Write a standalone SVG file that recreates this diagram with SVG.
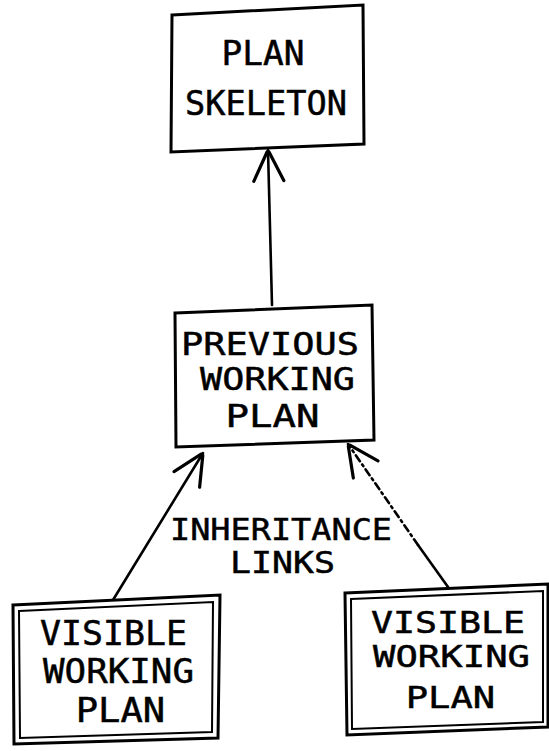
<svg xmlns="http://www.w3.org/2000/svg" width="549" height="751" viewBox="0 0 549 751">
  <style>
    .box { fill: #ffffff; stroke: #000000; stroke-width: 3; stroke-linejoin: miter; }
    .inner { fill: none; stroke: #000000; stroke-width: 2; }
    .label { font-family: "DejaVu Sans Mono", "Liberation Mono", monospace; fill: #000000; stroke: #000000; stroke-width: 0.5; text-anchor: middle; }
    .link { fill: none; stroke: #000000; stroke-width: 2.6; stroke-linecap: round; }
    .dotted { stroke-dasharray: 7 4 2 4; }
  </style>
  <defs>
    <!-- open V arrowhead, tip at the end of the link -->
    <marker id="openArrow" viewBox="-40 -20 44 40" markerWidth="44" markerHeight="40" refX="0" refY="0" markerUnits="userSpaceOnUse" orient="auto" overflow="visible">
      <path d="M -31 -15 L -2 -1 M -31 15 L -2 1" fill="none" stroke="#000000" stroke-width="3.2" stroke-linecap="round"/>
    </marker>
  </defs>

  <rect width="549" height="751" fill="#ffffff"/>

  <!-- links -->
  <g id="connectors">
    <line class="link" x1="272" y1="305" x2="268" y2="150" marker-end="url(#openArrow)"/>
    <line class="link" x1="113" y1="600" x2="203" y2="453" marker-end="url(#openArrow)"/>
    <line class="link" x1="448" y1="587" x2="418" y2="545"/>
    <line class="link dotted" x1="418" y1="545" x2="348" y2="444" marker-end="url(#openArrow)"/>
  </g>

  <g id="plan-skeleton">
    <polygon class="box" points="172,15 363,5 364,144 171,152"/>
    <text class="label" font-size="33" x="263" y="65" textLength="83" lengthAdjust="spacingAndGlyphs">PLAN</text>
    <text class="label" font-size="33" x="266" y="115" textLength="162" lengthAdjust="spacingAndGlyphs">SKELETON</text>
  </g>

  <g id="previous-working-plan">
    <polygon class="box" points="175,313 372,305 374,440 176,447"/>
    <text class="label" font-size="32" x="270" y="355" textLength="178" lengthAdjust="spacingAndGlyphs">PREVIOUS</text>
    <text class="label" font-size="32" x="277.5" y="390" textLength="155" lengthAdjust="spacingAndGlyphs">WORKING</text>
    <text class="label" font-size="32" x="272.5" y="427" textLength="94" lengthAdjust="spacingAndGlyphs">PLAN</text>
  </g>

  <g id="link-label">
    <text class="label" font-size="30.5" x="281" y="540" textLength="222" lengthAdjust="spacingAndGlyphs">INHERITANCE</text>
    <text class="label" font-size="30.5" x="282.5" y="573" textLength="105" lengthAdjust="spacingAndGlyphs">LINKS</text>
  </g>

  <g id="visible-working-plan-left">
    <polygon class="box" points="13,605 220,595 218,738 14,744"/>
    <polygon class="inner" points="19,611 213,602 212,732 20,738"/>
    <text class="label" font-size="34" x="113.5" y="645" textLength="147" lengthAdjust="spacingAndGlyphs">VISIBLE</text>
    <text class="label" font-size="34" x="118.5" y="683" textLength="151" lengthAdjust="spacingAndGlyphs">WORKING</text>
    <text class="label" font-size="34" x="120.5" y="722" textLength="89.5" lengthAdjust="spacingAndGlyphs">PLAN</text>
  </g>

  <g id="visible-working-plan-right">
    <polygon class="box" points="345,593 548,584 548,727 347,735"/>
    <polygon class="inner" points="351,599 543,591 543,722 352,729"/>
    <text class="label" font-size="31" x="448" y="633" textLength="154" lengthAdjust="spacingAndGlyphs">VISIBLE</text>
    <text class="label" font-size="31" x="451.5" y="667" textLength="157" lengthAdjust="spacingAndGlyphs">WORKING</text>
    <text class="label" font-size="31" x="450.5" y="708" textLength="89.5" lengthAdjust="spacingAndGlyphs">PLAN</text>
  </g>
</svg>
